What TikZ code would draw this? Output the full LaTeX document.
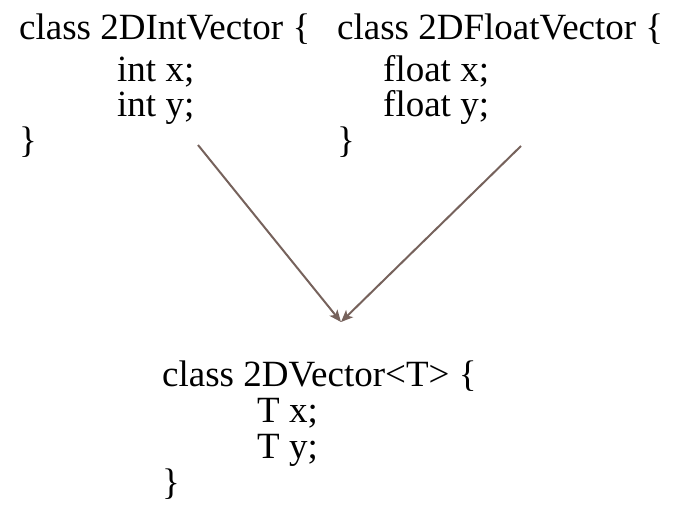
\documentclass[tikz,border=0pt]{standalone}
\usepackage{fontspec}
\setmainfont{Liberation Serif}
\usetikzlibrary{arrows.meta}
\definecolor{linkbrown}{RGB}{118,98,92}
\tikzset{
  code/.style={
    anchor=base west,
    inner sep=0pt,
    font=\fontsize{37}{38}\selectfont,
  },
  link/.style={
    draw=linkbrown,
    line width=2pt,
    -{Stealth[length=12pt,width=10pt,inset=3pt]},
  }
}

\begin{document}
\begin{tikzpicture}[x=1pt, y=-1pt]
  \useasboundingbox (0, 0) rectangle (679, 516);

  % left class
  \node[code] (intHead) at (19, 40) {class 2DIntVector \{};
  \node[code] (intX) at (117, 82) {int x;};
  \node[code] (intY) at (117, 117) {int y;};
  \node[code] (intEnd) at (19, 152) {\}};

  % right class
  \node[code] (floatHead) at (337, 40) {class 2DFloatVector \{};
  \node[code] (floatX) at (383, 82) {float x;};
  \node[code] (floatY) at (383, 117) {float y;};
  \node[code] (floatEnd) at (337, 152) {\}};

  % template class
  \node[code] (tHead) at (162, 386) {class 2DVector<T> \{};
  \node[code] (tX) at (257, 422) {T x;};
  \node[code] (tY) at (257, 458) {T y;};
  \node[code] (tEnd) at (162, 494) {\}};

  \coordinate (intOut) at (198, 145);
  \coordinate (floatOut) at (521, 146);
  \coordinate (tIn) at (341, 322);

  \draw[link] (intOut) -- (tIn);
  \draw[link] (floatOut) -- (tIn);

\end{tikzpicture}
\end{document}
